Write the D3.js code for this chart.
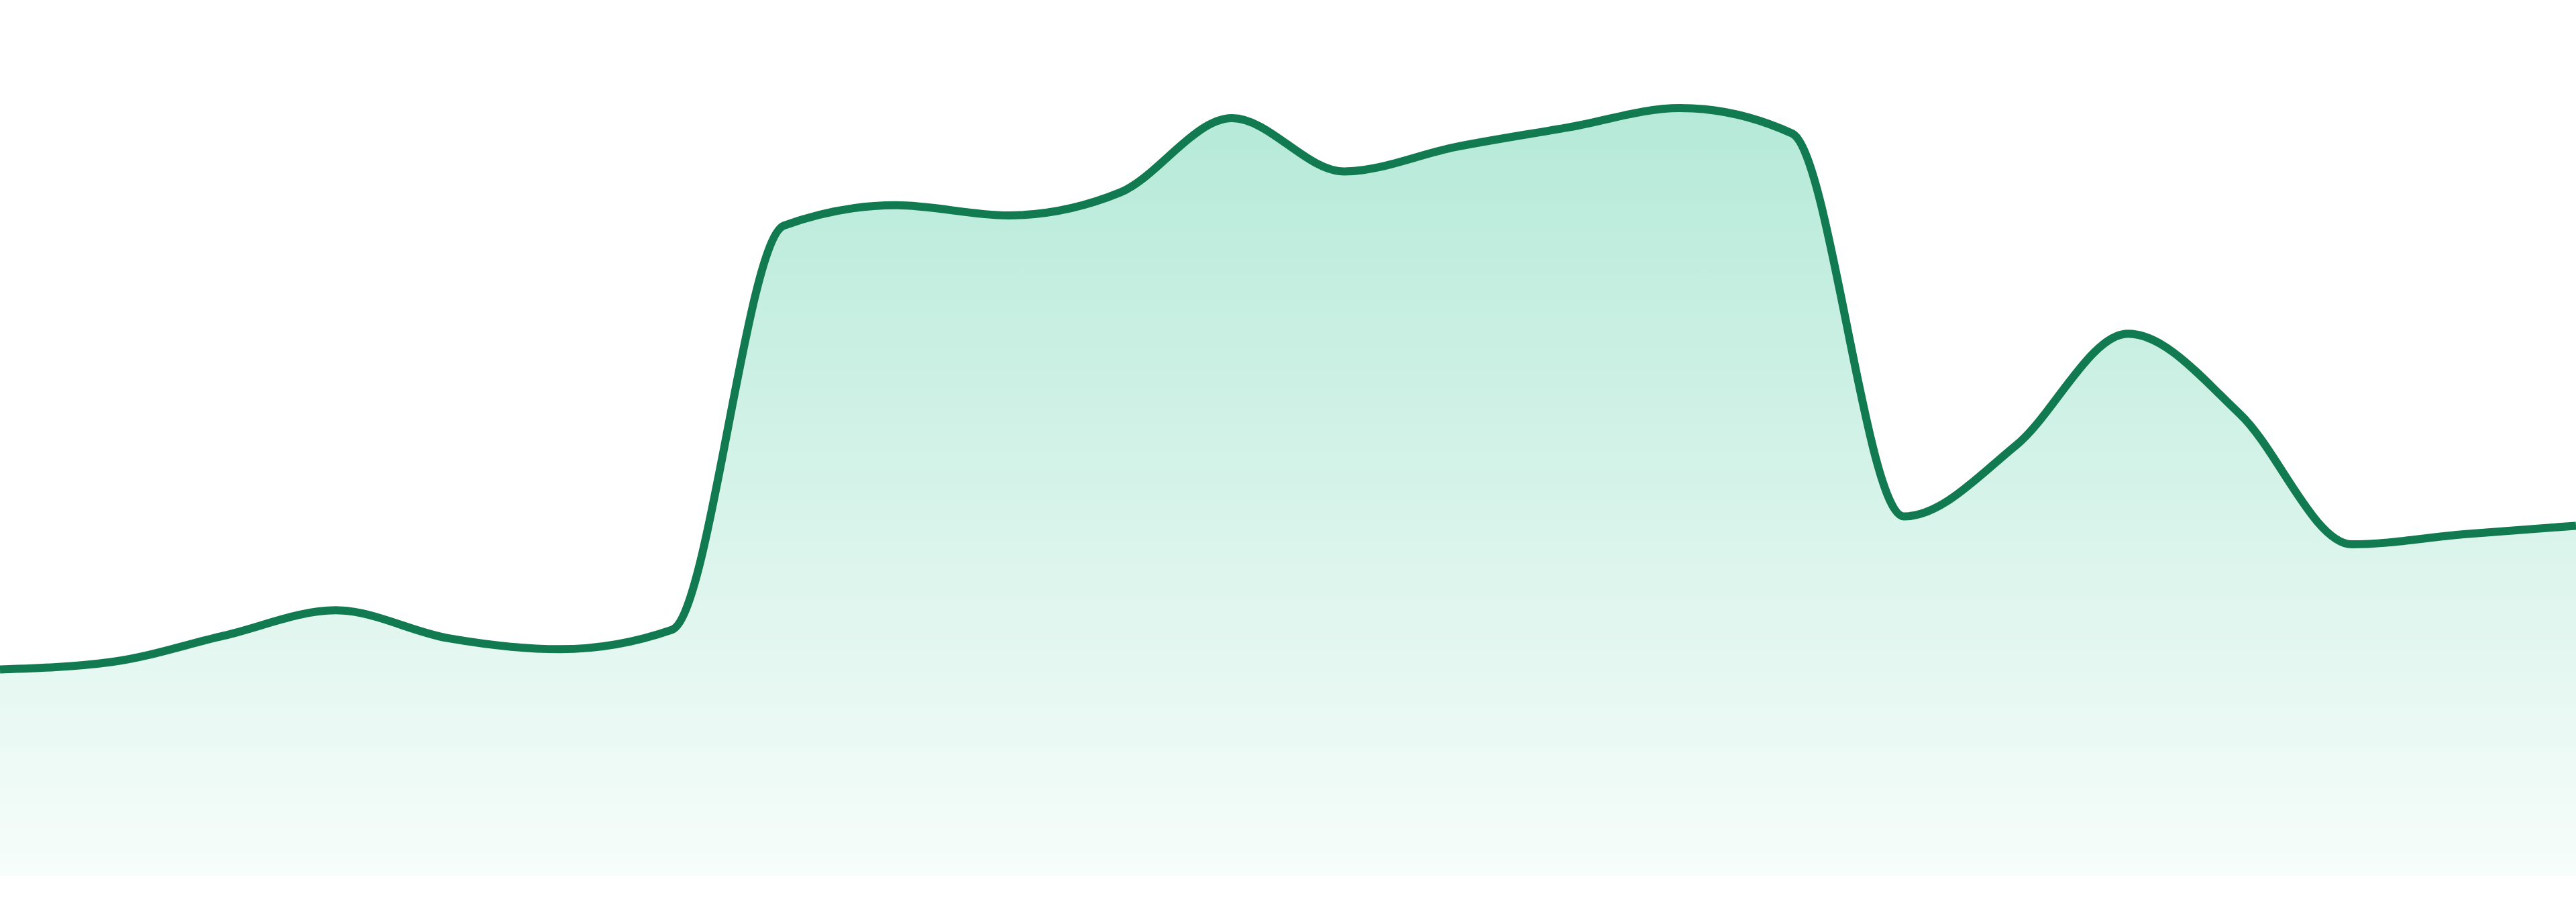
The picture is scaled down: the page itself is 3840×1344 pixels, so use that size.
<!DOCTYPE html>
<html>
<head>
<meta charset="utf-8">
<script src="https://cdn.jsdelivr.net/npm/d3@7"></script>
<style>
  html, body { margin: 0; padding: 0; background: #fff; }
  svg { display: block; }
</style>
</head>
<body>
<div id="chart"></div>
<script>
// periods along the x axis (no labels drawn in the sparkline)
const periods = ["1", "2", "3", "4", "5", "6", "7", "8", "9", "10", "11", "12",
  "13", "14", "15", "16", "17", "18", "19", "20", "21", "22", "23", "24"];

// series values
const values = [24.4, 25.3, 28.4, 31.4, 28.1, 26.8, 29.1, 76.9, 79.3, 78.1, 80.8, 89.6,
  83.3, 86.2, 88.5, 90.8, 87.8, 42.5, 50.9, 64.1, 54.6, 39.2, 40.4, 41.4];

const yDomain = [0, 100];

const width = 3840;
const height = 1344;
const margin = { top: 45, right: 0, bottom: 39, left: 0 };

const data = periods.map((p, i) => ({ period: p, value: values[i] }));

const x = d3.scalePoint()
  .domain(periods)
  .range([margin.left, width - margin.right]);

const y = d3.scaleLinear()
  .domain(yDomain)
  .range([height - margin.bottom, margin.top]);

const svg = d3.select("#chart").append("svg")
  .attr("width", width)
  .attr("height", height);

// vertical fade under the line
const grad = svg.append("defs").append("linearGradient")
  .attr("id", "fade")
  .attr("gradientUnits", "userSpaceOnUse")
  .attr("x1", 0).attr("x2", 0)
  .attr("y1", y(d3.max(values))).attr("y2", y(0));
grad.append("stop").attr("offset", "0%").attr("stop-color", "#10b981").attr("stop-opacity", 0.31);
grad.append("stop").attr("offset", "100%").attr("stop-color", "#10b981").attr("stop-opacity", 0.035);

const area = d3.area()
  .x(d => x(d.period))
  .y0(y(0))
  .y1(d => y(d.value))
  .curve(d3.curveMonotoneX);

const line = d3.line()
  .x(d => x(d.period))
  .y(d => y(d.value))
  .curve(d3.curveMonotoneX);

svg.append("path")
  .datum(data)
  .attr("fill", "url(#fade)")
  .attr("d", area);

svg.append("path")
  .datum(data)
  .attr("fill", "none")
  .attr("stroke", "#127a50")
  .attr("stroke-width", 12)
  .attr("stroke-linejoin", "round")
  .attr("d", line);
</script>
</body>
</html>
